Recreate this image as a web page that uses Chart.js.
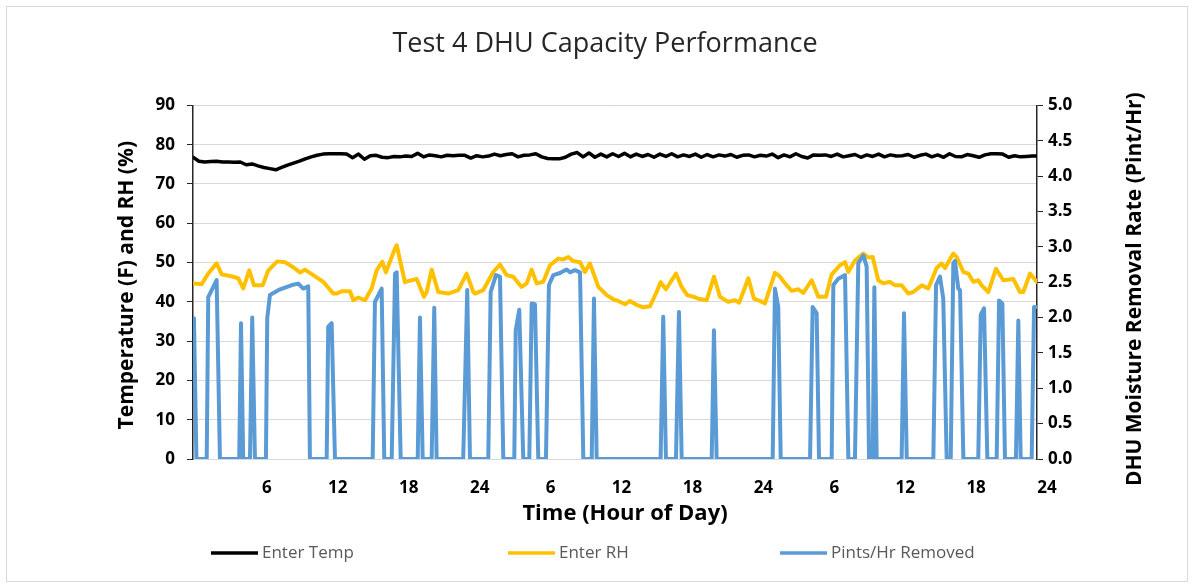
<!DOCTYPE html>
<html>
<head>
<meta charset="utf-8">
<script src="https://cdn.jsdelivr.net/npm/chart.js@4.4.1/dist/chart.umd.min.js"></script>
<style>
html,body{margin:0;padding:0;background:#fff;}
#wrap{position:absolute;left:0;top:0;width:1194px;height:588px;}
</style>
</head>
<body>
<div id="wrap"><canvas id="c" width="1194" height="588"></canvas></div>
<script>
// ---------- data ----------
const chartTitle = 'Test 4 DHU Capacity Performance';
const seriesNames = ['Enter Temp', 'Enter RH', 'Pints/Hr Removed'];
const leftAxisTitle = 'Temperature (F) and RH (%)';
const rightAxisTitle = 'DHU Moisture Removal Rate (Pint/Hr)';
const xAxisTitle = 'Time (Hour of Day)';

const xTickHours = [6, 12, 18, 24, 30, 36, 42, 48, 54, 60, 66, 72];
const xTickLabels = ['6', '12', '18', '24', '6', '12', '18', '24', '6', '12', '18', '24'];

// Enter Temp (F), read every half hour starting at hour -0.25
const tempStartHour = -0.25;
const tempStepHours = 0.5;
const tempValues = [
  76.8, 75.8, 75.6, 75.7, 75.8, 75.6, 75.6, 75.5, 75.6, 74.9,
  75.1, 74.6, 74.2, 73.9, 73.6, 74.2, 74.8, 75.3, 75.8, 76.4,
  76.9, 77.3, 77.6, 77.7, 77.7, 77.7, 77.6, 76.7, 77.6, 76.3,
  77.2, 77.3, 76.8, 76.7, 77.0, 76.9, 77.1, 77.0, 77.8, 76.9,
  77.4, 77.2, 76.9, 77.3, 77.2, 77.3, 77.3, 76.6, 77.2, 76.9,
  77.1, 77.6, 77.2, 77.5, 77.7, 76.9, 77.3, 77.4, 77.7, 76.9,
  76.5, 76.4, 76.4, 76.8, 77.6, 78.0, 76.9, 77.9, 76.8, 77.6,
  76.9, 77.7, 77.0, 77.8, 76.9, 77.6, 77.0, 77.5, 76.8, 77.6,
  77.0, 77.7, 76.9, 77.4, 77.0, 77.6, 76.8, 77.5, 76.9, 77.4,
  77.1, 77.5, 76.8, 77.3, 77.4, 76.9, 77.3, 77.1, 77.6, 76.7,
  77.4, 76.9, 77.7, 77.0, 76.6, 77.4, 77.3, 77.4, 77.0, 77.6,
  76.9, 77.2, 77.5, 76.8, 77.4, 77.0, 77.6, 76.9, 77.4, 77.1,
  77.2, 77.5, 76.8, 77.3, 77.6, 76.9, 77.4, 76.8, 77.7, 77.0,
  76.9, 77.5, 77.2, 76.8, 77.4, 77.7, 77.7, 77.6, 76.8, 77.2,
  76.9, 77.0, 77.1, 77.1
];

// Enter RH (%)
const rhHours = [
  -0.23, 0.48, 1.04, 1.75, 2.17, 2.88, 3.58, 4.0, 4.51, 4.91, 5.64, 6.12, 6.88, 7.53, 8.23, 8.8, 9.22, 9.92, 10.77,
  11.62, 11.9, 12.33, 13.03, 13.31, 13.73, 14.3, 14.86, 15.29, 15.76, 16.07, 16.84, 16.98, 17.68, 18.1, 18.67,
  19.29, 19.52, 19.94, 20.5, 21.35, 22.19, 22.9, 23.46, 23.6, 24.31, 25.15, 25.72, 26.29, 26.84, 27.55, 27.98,
  28.4, 28.82, 29.38, 29.95, 30.65, 31.07, 31.5, 31.92, 32.49, 32.91, 33.33, 34.04, 34.75, 35.45, 35.59, 36.29,
  36.72, 37.28, 37.84, 38.41, 38.97, 39.31, 39.76, 40.61, 41.09, 41.56, 42.07, 42.5, 43.21, 43.82, 44.33, 45.03,
  45.6, 45.96, 46.73, 47.21, 47.57, 48.14, 48.98, 49.41, 49.83, 50.4, 50.96, 51.38, 52.09, 52.65, 53.3, 53.78,
  54.48, 54.91, 55.19, 55.75, 56.46, 56.88, 57.25, 57.72, 58.15, 58.71, 59.14, 59.7, 60.26, 60.68, 61.4, 61.95,
  62.66, 63.08, 63.37, 64.07, 64.36, 64.92, 65.34, 65.76, 66.18, 66.47, 67.03, 67.68, 68.3, 69.15, 69.71, 69.99,
  70.56, 71.12
];
const rhValues = [
  44.7, 44.5, 47.2, 49.8, 47.0, 46.6, 46.0, 43.4, 48.0, 44.2, 44.2, 48.0, 50.3, 50.1, 48.8, 47.5, 48.2, 46.8, 45.1,
  42.1, 42.1, 42.7, 42.7, 40.4, 41.1, 40.4, 43.4, 48.0, 50.2, 47.5, 53.6, 54.4, 45.0, 45.4, 45.8,
  41.3, 42.5, 48.2, 42.5, 42.1, 43.0, 47.2, 42.5, 42.1, 43.0, 47.6, 49.5, 46.8, 46.4, 43.8, 44.7,
  48.2, 44.7, 45.1, 49.3, 51.0, 50.8, 51.4, 50.4, 50.1, 47.6, 49.8, 43.8, 41.7, 40.4, 40.4, 39.4,
  40.2, 39.2, 38.6, 38.9, 42.5, 45.0, 43.2, 47.2, 43.8, 41.7, 41.3, 40.8, 40.4, 46.4, 41.3, 40.0,
  40.4, 39.8, 46.0, 40.8, 40.4, 39.6, 47.4, 46.4, 44.7, 42.8, 43.2, 42.3, 45.5, 41.3, 41.3, 47.0,
  49.3, 50.1, 47.6, 50.5, 52.3, 51.3, 51.4, 45.5, 44.7, 45.1, 44.2, 44.2, 42.1, 42.5, 44.2, 43.4,
  48.6, 49.8, 48.6, 52.3, 51.4, 47.6, 47.2, 45.1, 45.5, 44.2, 42.5, 48.4, 45.5, 45.8, 42.5, 42.5,
  47.2, 45.1
];

// Pints/Hr Removed (right axis)
const pintHours = [
  -0.17, 0.04, 0.91, 1.04, 1.75, 2.03, 3.66, 3.81, 4.0, 4.57, 4.76, 4.99,
  5.92, 6.03, 6.26, 7.0, 8.12, 8.66, 9.08, 9.5, 9.64, 11.06, 11.19, 11.48, 11.76,
  14.95, 15.14, 15.71, 15.93, 16.56, 16.84, 16.98, 17.32, 18.76, 18.95, 19.18, 19.94, 20.16, 20.36,
  22.61, 22.95, 23.18, 24.73, 24.93, 25.38, 25.72, 26.0, 26.93, 27.05, 27.35, 27.69,
  28.2, 28.4, 28.68, 28.96, 29.61, 29.86, 30.23, 30.8, 31.36, 31.64, 32.06, 32.49, 32.77,
  33.48, 33.67, 33.9, 39.31, 39.53, 39.76, 40.61, 40.86, 41.09, 43.63, 43.82, 44.05,
  48.79, 48.98, 49.26, 49.47, 51.95, 52.17, 52.51, 52.71, 53.78, 53.92, 54.34, 54.91, 55.19,
  55.75, 56.03, 56.46, 56.74, 56.94, 57.25, 57.39, 57.59, 59.7, 59.9, 60.13,
  62.38, 62.61, 62.94, 63.22, 63.51, 63.85, 64.07, 64.21, 64.49, 64.64, 64.92,
  66.18, 66.39, 66.67, 66.95, 67.74, 67.94, 68.22, 68.44, 69.37, 69.57, 69.77, 70.7, 70.9, 71.15
];
const pintValues = [
  1.99, 0, 0, 2.29, 2.53, 0, 0, 1.92, 0, 0, 2.0, 0,
  0, 1.99, 2.32, 2.39, 2.46, 2.48, 2.41, 2.44, 0, 0, 1.87, 1.92, 0,
  0, 2.22, 2.41, 0, 0, 2.62, 2.64, 0, 0, 2.0, 0, 0, 2.14, 0,
  0, 2.39, 0, 0, 2.36, 2.6, 2.58, 0, 0, 1.82, 2.11, 0,
  0, 2.2, 2.19, 0, 0, 2.46, 2.6, 2.63, 2.68, 2.64, 2.67, 2.64, 0,
  0, 2.27, 0, 0, 2.01, 0, 0, 2.08, 0, 0, 1.82, 0,
  0, 2.41, 2.15, 0, 0, 2.15, 2.06, 0, 0, 2.46, 2.55, 2.6, 0,
  0, 2.77, 2.88, 2.72, 0, 0, 2.43, 0, 0, 2.06, 0,
  0, 2.46, 2.58, 2.27, 0, 0, 2.77, 2.8, 2.41, 2.39, 0,
  0, 2.04, 2.13, 0, 0, 2.24, 2.2, 0, 0, 1.96, 0, 0, 2.15, 2.15
];

// ---------- build ----------
const tempPoints = tempValues.map((v, i) => ({x: tempStartHour + i * tempStepHours, y: v}));
const rhPoints = rhHours.map((h, i) => ({x: h, y: rhValues[i]}));
const pintPoints = pintHours.map((h, i) => ({x: h, y: pintValues[i]}));

const COLORS = {temp: '#000000', rh: '#FFC000', pint: '#5B9BD5'};
const FONT = '"Open Sans", "DejaVu Sans", sans-serif';
Chart.defaults.font.family = FONT;

const extraText = {
  id: 'extraText',
  afterDraw(chart) {
    const ctx = chart.ctx;
    const a = chart.chartArea;
    ctx.save();
    ctx.fillStyle = '#000';
    ctx.font = 'bold 22px ' + FONT;
    ctx.textAlign = 'center';
    ctx.textBaseline = 'middle';
    ctx.fillText(xAxisTitle, (a.left + a.right) / 2 + 10, a.bottom + 55);

    ctx.font = 'bold 21px ' + FONT;
    ctx.save();
    ctx.translate(127, (a.top + a.bottom) / 2 + 3);
    ctx.rotate(-Math.PI / 2);
    ctx.fillText(leftAxisTitle, 0, 0);
    ctx.restore();

    ctx.font = 'bold 21px ' + FONT;
    ctx.save();
    ctx.translate(1135, (a.top + a.bottom) / 2 + 7);
    ctx.rotate(-Math.PI / 2);
    ctx.fillText(rightAxisTitle, 0, 0);
    ctx.restore();

    // legend
    const starts = [211, 508, 780];
    const ly = 553;
    ctx.font = '17px ' + FONT;
    ctx.textAlign = 'left';
    chart.data.datasets.forEach((ds, i) => {
      const x = starts[i];
      ctx.strokeStyle = ds.borderColor;
      ctx.lineWidth = 3.5;
      ctx.beginPath();
      ctx.moveTo(x, ly);
      ctx.lineTo(x + 47, ly);
      ctx.stroke();
      ctx.fillStyle = '#595959';
      ctx.fillText(ds.label, x + 51, ly);
    });
    ctx.restore();

    // outer border
    ctx.save();
    ctx.strokeStyle = '#D9D9D9';
    ctx.lineWidth = 1;
    ctx.strokeRect(6.5, 6.5, 1181, 575);
    ctx.restore();
  }
};

new Chart(document.getElementById('c'), {
  type: 'line',
  data: {
    datasets: [
      {label: seriesNames[0], data: tempPoints, yAxisID: 'y', borderColor: COLORS.temp, backgroundColor: COLORS.temp, borderWidth: 3.5, order: 1},
      {label: seriesNames[1], data: rhPoints, yAxisID: 'y', borderColor: COLORS.rh, backgroundColor: COLORS.rh, borderWidth: 4, order: 2},
      {label: seriesNames[2], data: pintPoints, yAxisID: 'y1', borderColor: COLORS.pint, backgroundColor: COLORS.pint, borderWidth: 4, order: 0}
    ]
  },
  options: {
    responsive: false,
    animation: false,
    devicePixelRatio: 1,
    events: [],
    layout: {padding: {left: 16, right: 0, top: 0, bottom: 57}},
    elements: {
      point: {radius: 0},
      line: {tension: 0, fill: false, borderJoinStyle: 'round', borderCapStyle: 'round'}
    },
    plugins: {
      legend: {display: false},
      tooltip: {enabled: false},
      title: {
        display: true,
        text: chartTitle,
        color: '#262626',
        font: {size: 27, weight: 'normal', family: FONT},
        padding: {top: 28, bottom: 45}
      }
    },
    scales: {
      x: {
        type: 'linear',
        min: -0.25,
        max: 71.15,
        grid: {display: false, drawTicks: false},
        border: {display: false},
        afterBuildTicks: (scale) => { scale.ticks = xTickHours.map(v => ({value: v})); },
        afterFit: (scale) => { scale.height = 72; },
        ticks: {
          autoSkip: false,
          maxRotation: 0,
          padding: 19,
          color: '#000',
          font: {size: 17, weight: 'bold'},
          callback: (value, index) => xTickLabels[index]
        }
      },
      y: {
        position: 'left',
        min: 0,
        max: 90,
        afterFit: (scale) => { scale.width = 177; },
        grid: {color: '#D9D9D9', lineWidth: 1, tickLength: 6, tickColor: '#262626'},
        border: {color: '#262626', width: 1.5},
        ticks: {stepSize: 10, padding: 12, color: '#000', font: {size: 17, weight: 'bold'}}
      },
      y1: {
        position: 'right',
        min: 0,
        max: 5,
        afterFit: (scale) => { scale.width = 157; },
        grid: {drawOnChartArea: false, tickLength: 6, tickColor: '#262626'},
        border: {color: '#262626', width: 1.5},
        ticks: {
          stepSize: 0.5, padding: 5, color: '#000', font: {size: 17, weight: 'bold'},
          callback: (v) => Number(v).toFixed(1)
        }
      }
    }
  },
  plugins: [extraText]
});
</script>
</body>
</html>
